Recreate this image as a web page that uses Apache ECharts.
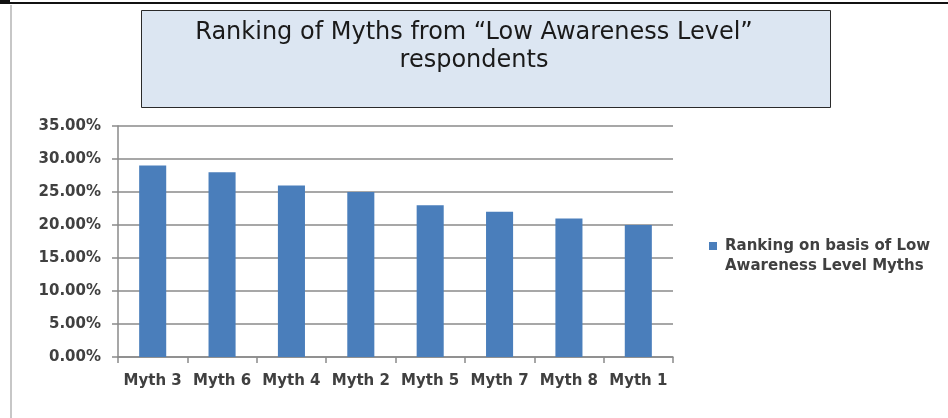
<!DOCTYPE html>
<html>
<head>
<meta charset="utf-8">
<script src="https://cdn.jsdelivr.net/npm/echarts@6/dist/echarts.min.js"></script>
<style>
  html, body { margin: 0; padding: 0; background: #fff; }
  #chart { width: 948px; height: 418px; }
</style>
</head>
<body>
<div id="chart"></div>
<script>
// Myths ordered by share of low-awareness respondents
const categories = ['Myth 3', 'Myth 6', 'Myth 4', 'Myth 2', 'Myth 5', 'Myth 7', 'Myth 8', 'Myth 1'];
const shares = [29, 28, 26, 25, 23, 22, 21, 20];
const seriesName = 'Ranking on basis of Low Awareness Level Myths';
// leading blank line keeps the swatch level with the first text line
const legendText = '\nRanking on basis of Low\nAwareness Level Myths';
const titleLines = ['Ranking of Myths from \u201cLow Awareness Level\u201d', 'respondents'];
const yMin = 0, yMax = 35, yStep = 5;

const chart = echarts.init(document.getElementById('chart'), null, { renderer: 'canvas' });
const labelColor = '#404040';
const gridColor = '#8a8a8a';
const face = '"DejaVu Sans"';

chart.setOption({
  animation: false,
  backgroundColor: '#ffffff',
  graphic: [
    // page frame: rule along the top and a thin line down the left side
    { type: 'line', shape: { x1: 0, y1: 3, x2: 948, y2: 3 }, style: { stroke: '#111', lineWidth: 2 } },
    { type: 'line', shape: { x1: 0, y1: 1.5, x2: 10, y2: 1.5 }, style: { stroke: '#111', lineWidth: 3 } },
    { type: 'line', shape: { x1: 11, y1: 5, x2: 11, y2: 418 }, style: { stroke: '#b5b5b5', lineWidth: 1.5 } },
    // title panel
    { type: 'rect', shape: { x: 141.5, y: 10.5, width: 689, height: 97 },
      style: { fill: '#dce6f2', stroke: '#2a2a2a', lineWidth: 1 } },
    { type: 'text', left: 'center', top: 19, z: 10,
      style: { text: titleLines.join('\n'), fill: '#1a1a1a', font: '24px ' + face,
               textAlign: 'center', lineHeight: 28 } }
  ],
  grid: { left: 118, right: 275, top: 126, bottom: 61, containLabel: false },
  legend: {
    left: 709, top: 216, orient: 'vertical', padding: 0,
    itemWidth: 8, itemHeight: 8, itemGap: 0,
    icon: 'rect',
    textStyle: { color: labelColor, fontSize: 15, fontFamily: 'DejaVu Sans', fontWeight: 'bold',
                 lineHeight: 20, padding: [0, 0, 0, 3] },
    formatter: () => legendText,
    data: [seriesName]
  },
  xAxis: {
    type: 'category',
    data: categories,
    axisLine: { lineStyle: { color: gridColor, width: 1.5 } },
    axisTick: { show: true, length: 6, lineStyle: { color: gridColor, width: 1.5 } },
    axisLabel: { color: labelColor, fontSize: 15, fontFamily: 'DejaVu Sans', fontWeight: 'bold',
                 margin: 17, interval: 0, hideOverlap: false }
  },
  yAxis: {
    type: 'value',
    min: yMin, max: yMax, interval: yStep,
    axisLine: { show: true, lineStyle: { color: gridColor, width: 1.5 } },
    axisTick: { show: true, length: 6, lineStyle: { color: gridColor, width: 1.5 } },
    splitLine: { show: true, lineStyle: { color: gridColor, width: 1.5 } },
    axisLabel: { color: labelColor, fontSize: 15, fontFamily: 'DejaVu Sans', fontWeight: 'bold', margin: 17,
                 formatter: v => v.toFixed(2) + '%' }
  },
  series: [{
    name: seriesName,
    type: 'bar',
    data: shares,
    barWidth: '39%',
    itemStyle: { color: '#4a7ebb' }
  }]
});
</script>
</body>
</html>
